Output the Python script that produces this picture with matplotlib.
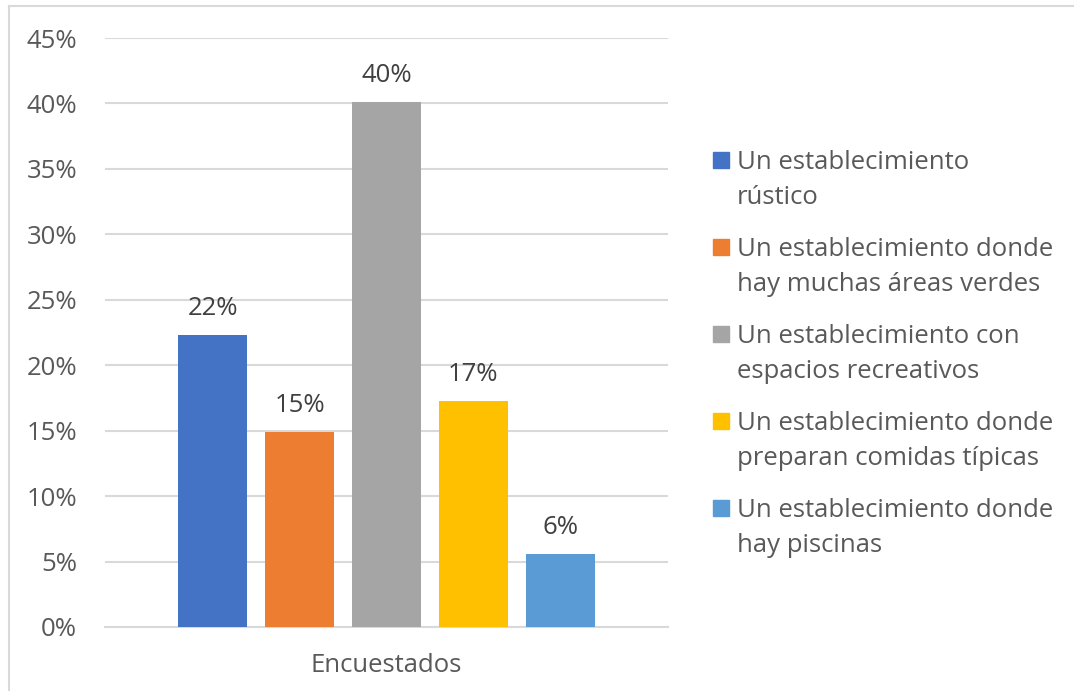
import matplotlib
matplotlib.use("Agg")
import matplotlib.pyplot as plt
from matplotlib.lines import Line2D
from matplotlib.patches import Rectangle
from matplotlib.ticker import FuncFormatter, MultipleLocator

CATEGORIES = [
    "Un establecimiento\nrústico",
    "Un establecimiento donde\nhay muchas áreas verdes",
    "Un establecimiento con\nespacios recreativos",
    "Un establecimiento donde\npreparan comidas típicas",
    "Un establecimiento donde\nhay piscinas",
]
VALUES = [22.3, 14.9, 40.1, 17.3, 5.6]
VALUE_LABELS = ["22%", "15%", "40%", "17%", "6%"]
GROUP_LABEL = "Encuestados"
COLORS = ["#4472c4", "#ed7d31", "#a5a5a5", "#ffc000", "#5b9bd5"]

INK = "#595959"
LABEL_INK = "#404040"
GRID = "#d9d9d9"
FONT = "Open Sans"
SIZE = 18.5

plt.rcParams["font.family"] = [FONT, "DejaVu Sans"]

W, H = 1074, 691
fig = plt.figure(figsize=(W / 100, H / 100), dpi=100, facecolor="white")
ax = fig.add_axes([105 / W, 1 - 627 / H, (668 - 105) / W, (627 - 38) / H])

n = len(VALUES)
offsets = [i - (n - 1) / 2 for i in range(n)]
bars = ax.bar(offsets, VALUES, width=0.793, color=COLORS, zorder=3)
for bar, text in zip(bars, VALUE_LABELS):
    ax.annotate(text, (bar.get_x() + bar.get_width() / 2, bar.get_height()),
                xytext=(0, 14.4), textcoords="offset points", ha="center", va="baseline",
                fontsize=SIZE, color=LABEL_INK)

ax.set_xlim(-3.24, 3.24)
ax.set_ylim(0, 45)
ax.yaxis.set_major_locator(MultipleLocator(5))
ax.yaxis.set_major_formatter(FuncFormatter(lambda v, _: f"{v:.0f}%"))
ax.set_xticks([0])
ax.set_xticklabels([GROUP_LABEL])
ax.tick_params(axis="y", length=0, pad=20, labelsize=SIZE, labelcolor=INK)
ax.tick_params(axis="x", length=0, pad=18.5, labelsize=SIZE, labelcolor=INK)
ax.yaxis.grid(True, color=GRID, linewidth=1.5, zorder=0)
for side in ["top", "right", "left"]:
    ax.spines[side].set_visible(False)
ax.spines["bottom"].set_color(GRID)
ax.spines["bottom"].set_linewidth(1.5)

# legend drawn by hand so the swatch sits on the first line of each label
for i, (label, color) in enumerate(zip(CATEGORIES, COLORS)):
    y = 160 + i * 87
    fig.add_artist(Rectangle((713 / W, 1 - (y + 8) / H), 16 / W, 16 / H,
                             transform=fig.transFigure, color=color))
    # baseline alignment refers to the last line of a multi-line text
    fig.text(737 / W, 1 - (y + 44) / H, label, ha="left", va="baseline",
             fontsize=SIZE, color=INK, linespacing=1.53)

# light frame on left and top edges
fig.add_artist(Line2D([9 / W, 9 / W], [0, 1 - 6 / H], transform=fig.transFigure, color=GRID, linewidth=1.5))
fig.add_artist(Line2D([9 / W, 1], [1 - 6 / H, 1 - 6 / H], transform=fig.transFigure, color=GRID, linewidth=1.5))

fig.savefig("out.png", dpi=100, facecolor="white")
